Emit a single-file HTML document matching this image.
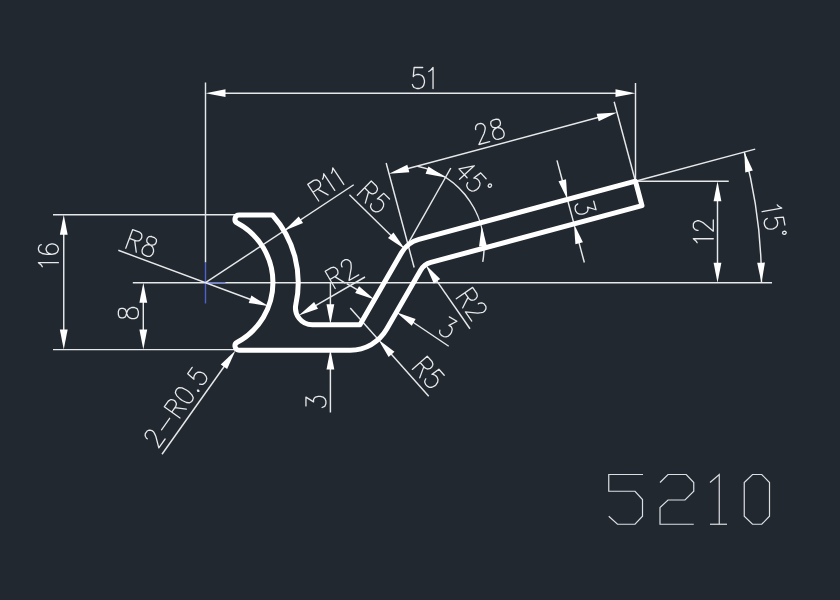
<!DOCTYPE html>
<html><head><meta charset="utf-8"><title>5210</title>
<style>
html,body{margin:0;padding:0;background:#212830;font-family:"Liberation Sans",sans-serif;}
svg{display:block;}
</style></head><body>
<svg width="840" height="600" viewBox="0 0 840 600">
<rect width="840" height="600" fill="#212830"/>
<line x1="205.5" y1="82.5" x2="205.5" y2="262.5" stroke="#e6e8ea" stroke-width="1.45"/>
<line x1="220" y1="93.2" x2="621" y2="93.2" stroke="#e6e8ea" stroke-width="1.45"/>
<polygon points="205.5,93.2 225.5,89.3 225.5,97.1" fill="#ffffff"/>
<polygon points="635.5,93.2 615.5,97.1 615.5,89.3" fill="#ffffff"/>
<line x1="635.5" y1="83" x2="635.5" y2="181" stroke="#e6e8ea" stroke-width="1.45"/>
<line x1="132.8" y1="282.7" x2="772" y2="282.7" stroke="#e6e8ea" stroke-width="1.45"/>
<line x1="205.5" y1="262.5" x2="205.5" y2="303.5" stroke="#4d62cc" stroke-width="1.4"/>
<line x1="205.5" y1="282.7" x2="225.5" y2="282.7" stroke="#6f82d8" stroke-width="1.4"/>
<line x1="53" y1="214.8" x2="236" y2="214.8" stroke="#e6e8ea" stroke-width="1.45"/>
<line x1="53" y1="349.6" x2="236" y2="349.6" stroke="#e6e8ea" stroke-width="1.45"/>
<line x1="63.75" y1="229.8" x2="63.75" y2="334.6" stroke="#e6e8ea" stroke-width="1.45"/>
<polygon points="63.75,214.8 67.65,234.8 59.85,234.8" fill="#ffffff"/>
<polygon points="63.75,349.6 59.85,329.6 67.65,329.6" fill="#ffffff"/>
<line x1="143.3" y1="297.7" x2="143.3" y2="334.6" stroke="#e6e8ea" stroke-width="1.45"/>
<polygon points="143.3,282.7 147.2,302.7 139.4,302.7" fill="#ffffff"/>
<polygon points="143.3,349.6 139.4,329.6 147.2,329.6" fill="#ffffff"/>
<path transform="translate(58.4 268.3) rotate(-90)" d="M1.6 -16.15 L3.2 -17.1 L5.6 -19.95 L5.6 0 M23.6 -17.1 L22.8 -19 L20.4 -19.95 L18.8 -19.95 L16.4 -19 L14.8 -16.15 L14 -11.4 L14 -6.65 L14.8 -2.85 L16.4 -0.95 L18.8 0 L19.6 0 L22 -0.95 L23.6 -2.85 L24.4 -5.7 L24.4 -6.65 L23.6 -9.5 L22 -11.4 L19.6 -12.35 L18.8 -12.35 L16.4 -11.4 L14.8 -9.5 L14 -6.65" fill="none" stroke="#e6e8ea" stroke-width="1.3" stroke-linecap="round" stroke-linejoin="round"/>
<path transform="translate(138.3 321.1) rotate(-90)" d="M6.4 -19.95 L4 -19 L3.2 -17.1 L3.2 -15.2 L4 -13.3 L5.6 -12.35 L8.8 -11.4 L11.2 -10.45 L12.8 -8.55 L13.6 -6.65 L13.6 -3.8 L12.8 -1.9 L12 -0.95 L9.6 0 L6.4 0 L4 -0.95 L3.2 -1.9 L2.4 -3.8 L2.4 -6.65 L3.2 -8.55 L4.8 -10.45 L7.2 -11.4 L10.4 -12.35 L12 -13.3 L12.8 -15.2 L12.8 -17.1 L12 -19 L9.6 -19.95 L6.4 -19.95" fill="none" stroke="#e6e8ea" stroke-width="1.3" stroke-linecap="round" stroke-linejoin="round"/>
<line x1="118.3" y1="250.3" x2="254.73" y2="300.99" stroke="#e6e8ea" stroke-width="1.45"/>
<polygon points="268.79,306.22 248.69,302.91 251.4,295.6" fill="#ffffff"/>
<path transform="translate(122.75 247.14) rotate(20.38)" d="M3.2 -19.95 L3.2 0 M3.2 -19.95 L10.4 -19.95 L12.8 -19 L13.6 -18.05 L14.4 -16.15 L14.4 -14.25 L13.6 -12.35 L12.8 -11.4 L10.4 -10.45 L3.2 -10.45 M8.8 -10.45 L14.4 0 M23.2 -19.95 L20.8 -19 L20 -17.1 L20 -15.2 L20.8 -13.3 L22.4 -12.35 L25.6 -11.4 L28 -10.45 L29.6 -8.55 L30.4 -6.65 L30.4 -3.8 L29.6 -1.9 L28.8 -0.95 L26.4 0 L23.2 0 L20.8 -0.95 L20 -1.9 L19.2 -3.8 L19.2 -6.65 L20 -8.55 L21.6 -10.45 L24 -11.4 L27.2 -12.35 L28.8 -13.3 L29.6 -15.2 L29.6 -17.1 L28.8 -19 L26.4 -19.95 L23.2 -19.95" fill="none" stroke="#e6e8ea" stroke-width="1.3" stroke-linecap="round" stroke-linejoin="round"/>
<line x1="205.5" y1="282.7" x2="353.75" y2="184.75" stroke="#e6e8ea" stroke-width="1.45"/>
<polygon points="284.21,230.69 298.75,216.42 303.05,222.92" fill="#ffffff"/>
<path transform="translate(316.08 202.76) rotate(-33.45)" d="M3.2 -19.95 L3.2 0 M3.2 -19.95 L10.4 -19.95 L12.8 -19 L13.6 -18.05 L14.4 -16.15 L14.4 -14.25 L13.6 -12.35 L12.8 -11.4 L10.4 -10.45 L3.2 -10.45 M8.8 -10.45 L14.4 0 M18.4 -16.15 L20 -17.1 L22.4 -19.95 L22.4 0 M29.2 -16.15 L30.8 -17.1 L33.2 -19.95 L33.2 0" fill="none" stroke="#e6e8ea" stroke-width="1.3" stroke-linecap="round" stroke-linejoin="round"/>
<line x1="349.4" y1="194.75" x2="394.32" y2="238.71" stroke="#e6e8ea" stroke-width="1.45"/>
<polygon points="405.04,249.2 388.02,238 393.48,232.43" fill="#ffffff"/>
<path transform="translate(355.01 193.06) rotate(44.38)" d="M3.2 -19.95 L3.2 0 M3.2 -19.95 L10.4 -19.95 L12.8 -19 L13.6 -18.05 L14.4 -16.15 L14.4 -14.25 L13.6 -12.35 L12.8 -11.4 L10.4 -10.45 L3.2 -10.45 M8.8 -10.45 L14.4 0 M28.8 -19.95 L20.8 -19.95 L20 -11.4 L20.8 -12.35 L23.2 -13.3 L25.6 -13.3 L28 -12.35 L29.6 -10.45 L30.4 -7.6 L30.4 -5.7 L29.6 -2.85 L28 -0.95 L25.6 0 L23.2 0 L20.8 -0.95 L20 -1.9 L19.2 -3.8" fill="none" stroke="#e6e8ea" stroke-width="1.3" stroke-linecap="round" stroke-linejoin="round"/>
<line x1="434.13" y1="277.17" x2="470" y2="328.75" stroke="#e6e8ea" stroke-width="1.45"/>
<polygon points="425.57,264.86 440.19,279.05 433.79,283.51" fill="#ffffff"/>
<path transform="translate(454.42 296.12) rotate(55.18)" d="M3.2 -19.95 L3.2 0 M3.2 -19.95 L10.4 -19.95 L12.8 -19 L13.6 -18.05 L14.4 -16.15 L14.4 -14.25 L13.6 -12.35 L12.8 -11.4 L10.4 -10.45 L3.2 -10.45 M8.8 -10.45 L14.4 0 M20 -15.2 L20 -16.15 L20.8 -18.05 L21.6 -19 L23.2 -19.95 L26.4 -19.95 L28 -19 L28.8 -18.05 L29.6 -16.15 L29.6 -14.25 L28.8 -12.35 L27.2 -9.5 L19.2 0 L30.4 0" fill="none" stroke="#e6e8ea" stroke-width="1.3" stroke-linecap="round" stroke-linejoin="round"/>
<line x1="414.16" y1="267.55" x2="386.16" y2="163.04" stroke="#e6e8ea" stroke-width="1.45"/>
<line x1="635.43" y1="181.2" x2="614.16" y2="101.8" stroke="#e6e8ea" stroke-width="1.45"/>
<line x1="403.49" y1="169.78" x2="602.51" y2="116.31" stroke="#e6e8ea" stroke-width="1.45"/>
<polygon points="389,173.66 407.31,164.72 409.33,172.25" fill="#ffffff"/>
<polygon points="617,112.43 598.69,121.37 596.67,113.84" fill="#ffffff"/>
<path transform="translate(476.58 145.12) rotate(-15)" d="M3.2 -15.2 L3.2 -16.15 L4 -18.05 L4.8 -19 L6.4 -19.95 L9.6 -19.95 L11.2 -19 L12 -18.05 L12.8 -16.15 L12.8 -14.25 L12 -12.35 L10.4 -9.5 L2.4 0 L13.6 0 M22.4 -19.95 L20 -19 L19.2 -17.1 L19.2 -15.2 L20 -13.3 L21.6 -12.35 L24.8 -11.4 L27.2 -10.45 L28.8 -8.55 L29.6 -6.65 L29.6 -3.8 L28.8 -1.9 L28 -0.95 L25.6 0 L22.4 0 L20 -0.95 L19.2 -1.9 L18.4 -3.8 L18.4 -6.65 L19.2 -8.55 L20.8 -10.45 L23.2 -11.4 L26.4 -12.35 L28 -13.3 L28.8 -15.2 L28.8 -17.1 L28 -19 L25.6 -19.95 L22.4 -19.95" fill="none" stroke="#e6e8ea" stroke-width="1.3" stroke-linecap="round" stroke-linejoin="round"/>
<line x1="406.5" y1="246.3" x2="450.8" y2="168" stroke="#e6e8ea" stroke-width="1.45"/>
<path d="M417.55 166.17 A83 83 0 0 1 482.74 261.91" fill="none" stroke="#e6e8ea" stroke-width="1.45"/>
<polygon points="445.6,177.4 425.56,173.7 428.42,166.44" fill="#ffffff"/>
<polygon points="481.7,226.2 486.81,245.92 479.03,246.4" fill="#ffffff"/>
<path transform="translate(452.48 171.65) rotate(47.4)" d="M10.4 -19.95 L2.4 -6.65 L14.4 -6.65 M10.4 -19.95 L10.4 0 M28 -19.95 L20 -19.95 L19.2 -11.4 L20 -12.35 L22.4 -13.3 L24.8 -13.3 L27.2 -12.35 L28.8 -10.45 L29.6 -7.6 L29.6 -5.7 L28.8 -2.85 L27.2 -0.95 L24.8 0 L22.4 0 L20 -0.95 L19.2 -1.9 L18.4 -3.8 M35.6 -19.95 L34.48 -19.38 L34 -18.05 L34.48 -16.72 L35.6 -16.15 L36.72 -16.72 L37.2 -18.05 L36.72 -19.38 L35.6 -19.95" fill="none" stroke="#e6e8ea" stroke-width="1.3" stroke-linecap="round" stroke-linejoin="round"/>
<line x1="556.96" y1="160.34" x2="563.56" y2="184.97" stroke="#e6e8ea" stroke-width="1.45"/>
<line x1="577.87" y1="238.41" x2="584.34" y2="262.56" stroke="#e6e8ea" stroke-width="1.45"/>
<line x1="567.44" y1="199.46" x2="573.99" y2="223.92" stroke="#e6e8ea" stroke-width="1.45"/>
<polygon points="567.44,199.46 558.49,181.15 566.03,179.13" fill="#ffffff"/>
<polygon points="573.99,223.92 582.93,242.23 575.4,244.25" fill="#ffffff"/>
<path transform="translate(573.44 202.55) rotate(75)" d="M4 -19.95 L12.8 -19.95 L8 -12.35 L10.4 -12.35 L12 -11.4 L12.8 -10.45 L13.6 -7.6 L13.6 -5.7 L12.8 -2.85 L11.2 -0.95 L8.8 0 L6.4 0 L4 -0.95 L3.2 -1.9 L2.4 -3.8" fill="none" stroke="#e6e8ea" stroke-width="1.3" stroke-linecap="round" stroke-linejoin="round"/>
<line x1="635.43" y1="181.2" x2="728.75" y2="181.2" stroke="#e6e8ea" stroke-width="1.45"/>
<line x1="717.5" y1="196.2" x2="717.5" y2="267.7" stroke="#e6e8ea" stroke-width="1.45"/>
<polygon points="717.5,181.2 721.4,201.2 713.6,201.2" fill="#ffffff"/>
<polygon points="717.5,282.7 713.6,262.7 721.4,262.7" fill="#ffffff"/>
<path transform="translate(713.3 244.35) rotate(-90)" d="M1.6 -16.15 L3.2 -17.1 L5.6 -19.95 L5.6 0 M14 -15.2 L14 -16.15 L14.8 -18.05 L15.6 -19 L17.2 -19.95 L20.4 -19.95 L22 -19 L22.8 -18.05 L23.6 -16.15 L23.6 -14.25 L22.8 -12.35 L21.2 -9.5 L13.2 0 L24.4 0" fill="none" stroke="#e6e8ea" stroke-width="1.3" stroke-linecap="round" stroke-linejoin="round"/>
<line x1="635.43" y1="181.2" x2="755.2" y2="149.11" stroke="#e6e8ea" stroke-width="1.45"/>
<path d="M744.3 152.03 A504.87 504.87 0 0 1 761.5 282.7" fill="none" stroke="#e6e8ea" stroke-width="1.45"/>
<polygon points="744.3,152.03 752.85,170.52 745.28,172.38" fill="#ffffff"/>
<polygon points="761.5,282.7 757.18,262.79 764.98,262.62" fill="#ffffff"/>
<path transform="translate(761.08 206.19) rotate(79.5)" d="M1.6 -16.15 L3.2 -17.1 L5.6 -19.95 L5.6 0 M22.8 -19.95 L14.8 -19.95 L14 -11.4 L14.8 -12.35 L17.2 -13.3 L19.6 -13.3 L22 -12.35 L23.6 -10.45 L24.4 -7.6 L24.4 -5.7 L23.6 -2.85 L22 -0.95 L19.6 0 L17.2 0 L14.8 -0.95 L14 -1.9 L13.2 -3.8 M30.4 -19.95 L29.28 -19.38 L28.8 -18.05 L29.28 -16.72 L30.4 -16.15 L31.52 -16.72 L32 -18.05 L31.52 -19.38 L30.4 -19.95" fill="none" stroke="#e6e8ea" stroke-width="1.3" stroke-linecap="round" stroke-linejoin="round"/>
<line x1="330.4" y1="282.7" x2="330.4" y2="309.3" stroke="#e6e8ea" stroke-width="1.45"/>
<line x1="330.4" y1="364.6" x2="330.4" y2="412.5" stroke="#e6e8ea" stroke-width="1.45"/>
<polygon points="330.4,324.3 326.5,304.3 334.3,304.3" fill="#ffffff"/>
<polygon points="330.4,349.6 334.3,369.6 326.5,369.6" fill="#ffffff"/>
<path transform="translate(325.9 409.9) rotate(-90)" d="M4 -19.95 L12.8 -19.95 L8 -12.35 L10.4 -12.35 L12 -11.4 L12.8 -10.45 L13.6 -7.6 L13.6 -5.7 L12.8 -2.85 L11.2 -0.95 L8.8 0 L6.4 0 L4 -0.95 L3.2 -1.9 L2.4 -3.8" fill="none" stroke="#e6e8ea" stroke-width="1.3" stroke-linecap="round" stroke-linejoin="round"/>
<line x1="311.72" y1="307.96" x2="365" y2="277" stroke="#e6e8ea" stroke-width="1.45"/>
<polygon points="298.75,315.5 314.08,302.08 318,308.82" fill="#ffffff"/>
<path transform="translate(332.43 290.11) rotate(-30.16)" d="M3.2 -19.95 L3.2 0 M3.2 -19.95 L10.4 -19.95 L12.8 -19 L13.6 -18.05 L14.4 -16.15 L14.4 -14.25 L13.6 -12.35 L12.8 -11.4 L10.4 -10.45 L3.2 -10.45 M8.8 -10.45 L14.4 0 M20 -15.2 L20 -16.15 L20.8 -18.05 L21.6 -19 L23.2 -19.95 L26.4 -19.95 L28 -19 L28.8 -18.05 L29.6 -16.15 L29.6 -14.25 L28.8 -12.35 L27.2 -9.5 L19.2 0 L30.4 0" fill="none" stroke="#e6e8ea" stroke-width="1.3" stroke-linecap="round" stroke-linejoin="round"/>
<line x1="346.72" y1="283.6" x2="361.44" y2="292.1" stroke="#e6e8ea" stroke-width="1.45"/>
<line x1="409.35" y1="319.76" x2="448.75" y2="346.25" stroke="#e6e8ea" stroke-width="1.45"/>
<polygon points="374.43,299.6 355.16,292.98 359.06,286.22" fill="#ffffff"/>
<polygon points="396.36,312.26 415.63,318.88 411.73,325.64" fill="#ffffff"/>
<path transform="translate(435.88 332.14) rotate(30)" d="M4 -19.95 L12.8 -19.95 L8 -12.35 L10.4 -12.35 L12 -11.4 L12.8 -10.45 L13.6 -7.6 L13.6 -5.7 L12.8 -2.85 L11.2 -0.95 L8.8 0 L6.4 0 L4 -0.95 L3.2 -1.9 L2.4 -3.8" fill="none" stroke="#e6e8ea" stroke-width="1.3" stroke-linecap="round" stroke-linejoin="round"/>
<line x1="350.23" y1="307.95" x2="378.27" y2="339.49" stroke="#e6e8ea" stroke-width="1.45"/>
<line x1="388.24" y1="350.69" x2="428.75" y2="396.25" stroke="#e6e8ea" stroke-width="1.45"/>
<polygon points="378.27,339.49 394.48,351.84 388.65,357.02" fill="#ffffff"/>
<path transform="translate(410.17 367.01) rotate(48.36)" d="M3.2 -19.95 L3.2 0 M3.2 -19.95 L10.4 -19.95 L12.8 -19 L13.6 -18.05 L14.4 -16.15 L14.4 -14.25 L13.6 -12.35 L12.8 -11.4 L10.4 -10.45 L3.2 -10.45 M8.8 -10.45 L14.4 0 M28.8 -19.95 L20.8 -19.95 L20 -11.4 L20.8 -12.35 L23.2 -13.3 L25.6 -13.3 L28 -12.35 L29.6 -10.45 L30.4 -7.6 L30.4 -5.7 L29.6 -2.85 L28 -0.95 L25.6 0 L23.2 0 L20.8 -0.95 L20 -1.9 L19.2 -3.8" fill="none" stroke="#e6e8ea" stroke-width="1.3" stroke-linecap="round" stroke-linejoin="round"/>
<line x1="162" y1="454.25" x2="226.83" y2="362.74" stroke="#e6e8ea" stroke-width="1.45"/>
<polygon points="235.5,350.5 227.12,369.07 220.76,364.57" fill="#ffffff"/>
<path transform="translate(157.46 449.82) rotate(-54.68)" d="M3.12 -14.72 L3.12 -15.64 L3.9 -17.48 L4.68 -18.4 L6.24 -19.32 L9.36 -19.32 L10.92 -18.4 L11.7 -17.48 L12.48 -15.64 L12.48 -13.8 L11.7 -11.96 L10.14 -9.2 L2.34 0 L13.26 0 M18.72 -8.28 L32.76 -8.28 M39 -19.32 L39 0 M39 -19.32 L46.02 -19.32 L48.36 -18.4 L49.14 -17.48 L49.92 -15.64 L49.92 -13.8 L49.14 -11.96 L48.36 -11.04 L46.02 -10.12 L39 -10.12 M44.46 -10.12 L49.92 0 M59.28 -19.32 L56.94 -18.4 L55.38 -15.64 L54.6 -11.04 L54.6 -8.28 L55.38 -3.68 L56.94 -0.92 L59.28 0 L60.84 0 L63.18 -0.92 L64.74 -3.68 L65.52 -8.28 L65.52 -11.04 L64.74 -15.64 L63.18 -18.4 L60.84 -19.32 L59.28 -19.32 M71.76 -1.84 L70.98 -0.92 L71.76 0 L72.54 -0.92 L71.76 -1.84 M87.36 -19.32 L79.56 -19.32 L78.78 -11.04 L79.56 -11.96 L81.9 -12.88 L84.24 -12.88 L86.58 -11.96 L88.14 -10.12 L88.92 -7.36 L88.92 -5.52 L88.14 -2.76 L86.58 -0.92 L84.24 0 L81.9 0 L79.56 -0.92 L78.78 -1.84 L78 -3.68" fill="none" stroke="#e6e8ea" stroke-width="1.3" stroke-linecap="round" stroke-linejoin="round"/>
<path d="M239.22 215 L272.47 215 A101.16 101.4 0 0 1 295.88 304.33 A16.86 16.9 0 0 0 312.35 324.85 L359.96 324.85 L401.5 252.74 A28.66 28.73 0 0 1 418.9 239.36 L635.43 181.2 L641.98 205.69 L430.84 262.39 A16.86 16.9 0 0 0 420.61 270.27 L386.73 329.08 A42.15 42.25 0 0 1 350.23 350.2 L239.22 350.2 A4.21 4.22 0 0 1 237.24 342.25 A67.44 67.6 0 0 0 237.24 222.95 A4.21 4.22 0 0 1 239.22 215 Z" fill="none" stroke="#ffffff" stroke-width="5" stroke-linejoin="round"/>
<path transform="translate(409.82 88.5) rotate(0)" d="M12.9 -21 L4.3 -21 L3.44 -12 L4.3 -13 L6.88 -14 L9.46 -14 L12.04 -13 L13.76 -11 L14.62 -8 L14.62 -6 L13.76 -3 L12.04 -1 L9.46 0 L6.88 0 L4.3 -1 L3.44 -2 L2.58 -4 M18.92 -17 L20.64 -18 L23.22 -21 L23.22 0" fill="none" stroke="#e6e8ea" stroke-width="1.3" stroke-linecap="round" stroke-linejoin="round"/>
<path d="M643 474.5 L608.75 474.5 L608.75 491.25 L635 491.25 L642.5 499.5 L642.5 516.25 L635 524.25 L617.5 524.25 L608.75 516.25" fill="none" stroke="#dcdfe2" stroke-width="1.2"/>
<path d="M660 482.5 L668 474.5 L686.25 474.5 L693.75 482.5 L693.75 491.25 L685 500 L668 500 L660 507.5 L660 524.25 L693.75 524.25" fill="none" stroke="#dcdfe2" stroke-width="1.2"/>
<path d="M710 482.5 L719.25 474.5 L719.25 524.25" fill="none" stroke="#dcdfe2" stroke-width="1.2"/>
<path d="M710 524.25 L727 524.25" fill="none" stroke="#dcdfe2" stroke-width="1.2"/>
<path d="M752.5 474.5 L761.75 474.5 L769.5 482.5 L769.5 516.25 L761.75 524.25 L752.5 524.25 L744.25 516.25 L744.25 482.5 Z" fill="none" stroke="#dcdfe2" stroke-width="1.2"/>
</svg>
</body></html>
